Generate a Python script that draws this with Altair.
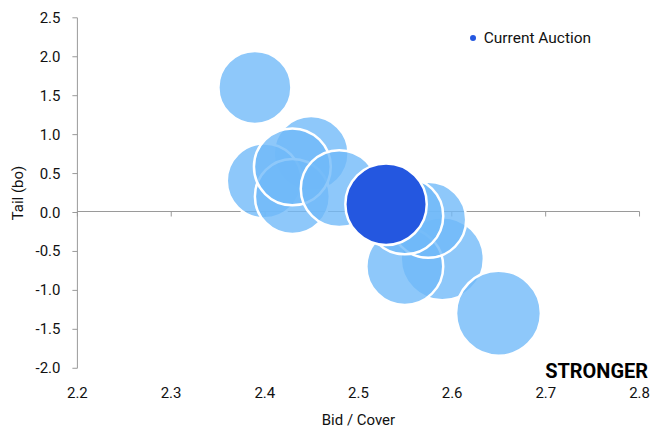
import altair as alt
import pandas as pd

# ---- data ----
bid_cover = [2.39, 2.45, 2.40, 2.43, 2.43, 2.48, 2.59, 2.55, 2.65, 2.575, 2.55]
tail_bp = [1.60, 0.75, 0.40, 0.20, 0.58, 0.30, -0.60, -0.70, -1.30, -0.10, -0.05]
auction_size = [37, 39, 39, 39, 41, 41, 48, 41, 50, 40, 41]

current_bid_cover = [2.53]
current_tail = [0.10]
current_size = [46]
current_label = ["Current Auction"]

x_ticks = [2.2, 2.3, 2.4, 2.5, 2.6, 2.7, 2.8]
y_ticks = [-2.0, -1.5, -1.0, -0.5, 0.0, 0.5, 1.0, 1.5, 2.0, 2.5]

past = pd.DataFrame({"bid": bid_cover, "tail": tail_bp, "size": auction_size})
cur = pd.DataFrame({"bid": current_bid_cover, "tail": current_tail,
                    "size": current_size, "label": current_label})
note = pd.DataFrame({"bid": [2.8], "tail": [-2.0], "text": ["STRONGER"]})

FONT = "Roboto, Liberation Sans, sans-serif"
GRAY = "#9a9a9a"
LABEL_EXPR = "datum.value < 0 ? '-' + format(-datum.value, '.1f') : format(datum.value, '.1f')"

xscale = alt.Scale(domain=[2.2, 2.8], nice=False, zero=False)
yscale = alt.Scale(domain=[-2.0, 2.5], nice=False, zero=False)
sscale = alt.Scale(domain=[0, 60], range=[0, 8670], zero=True)

yaxis = alt.Axis(values=y_ticks, labelExpr=LABEL_EXPR, title="Tail (bo)", grid=False,
                 tickSize=5, tickColor=GRAY, domainColor=GRAY, labelPadding=12,
                 titlePadding=10, labelFlush=False, zindex=0)

# zero line with ticks (an x axis moved up to y = 0)
zero_axis_layer = alt.Chart(past).mark_point(opacity=0).encode(
    x=alt.X("bid:Q", scale=xscale,
            axis=alt.Axis(orient="bottom", offset=-157, labels=False, title=None,
                          values=x_ticks, tickSize=5, tickColor=GRAY,
                          domainColor=GRAY, grid=False, zindex=0)),
    y=alt.Y("tail:Q", scale=yscale, axis=yaxis),
)

past_layer = alt.Chart(past).mark_circle(
    color="#70B9F9", fillOpacity=0.79, stroke="white", strokeWidth=2.5, strokeOpacity=1
).encode(
    x=alt.X("bid:Q", scale=xscale,
            axis=alt.Axis(orient="bottom", values=x_ticks, format=".1f",
                          title="Bid / Cover", domain=False, ticks=False,
                          labelFlush=False, labelPadding=18, titlePadding=12,
                          grid=False)),
    y=alt.Y("tail:Q", scale=yscale, axis=yaxis),
    size=alt.Size("size:Q", scale=sscale, legend=None),
)

current_layer = alt.Chart(cur).mark_circle(
    opacity=1, stroke="white", strokeWidth=2.5
).encode(
    x=alt.X("bid:Q", scale=xscale, axis=None),
    y=alt.Y("tail:Q", scale=yscale, axis=yaxis),
    size=alt.Size("size:Q", scale=sscale, legend=None),
    color=alt.Color("label:N",
                    scale=alt.Scale(domain=current_label, range=["#2457E0"]),
                    legend=alt.Legend(title=None, orient="none", legendX=389,
                                      legendY=13, symbolType="circle",
                                      symbolSize=36, symbolStrokeWidth=0,
                                      labelOffset=3, labelFont=FONT,
                                      labelFontSize=15.5, labelColor="#111")),
)

note_layer = alt.Chart(note).mark_text(
    align="right", baseline="alphabetic", dx=9, dy=10,
    font=FONT, fontSize=20, fontWeight="bold", color="#000"
).encode(
    x=alt.X("bid:Q", scale=xscale, axis=None),
    y=alt.Y("tail:Q", scale=yscale, axis=yaxis),
    text="text:N",
)

chart = alt.layer(zero_axis_layer, past_layer, current_layer, note_layer).resolve_axis(
    x="independent"
).properties(
    width=563, height=351,
    padding={"left": 2, "top": 2, "right": 0, "bottom": 0},
).configure_view(stroke=None).configure_axis(
    labelFont=FONT, labelFontSize=15, labelColor="#111",
    titleFont=FONT, titleFontSize=15, titleFontWeight="normal", titleColor="#111",
)

chart.save("out.html", embed_options={"renderer": "svg", "actions": False})
